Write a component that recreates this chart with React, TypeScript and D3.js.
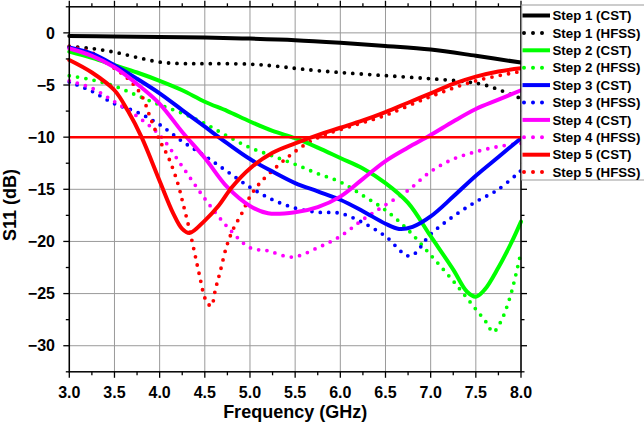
import React from "react";
import * as d3 from "d3";

// ---- Data (frequency GHz, S11 dB) ----
const s1CstF = [3.0, 3.5, 4.0, 4.5, 5.0, 5.5, 6.0, 6.5, 7.0, 7.5, 8.0];
const s1CstV = [-0.3, -0.35, -0.4, -0.45, -0.55, -0.7, -0.95, -1.25, -1.6, -2.2, -2.85];

const s1HfF = [3.0, 3.25, 3.5, 3.75, 4.0, 4.25, 4.5, 5.0, 5.3, 5.6, 6.0, 6.5, 7.0, 7.4, 7.6, 7.8, 8.0];
const s1HfV = [-1.3, -1.5, -1.85, -2.35, -2.8, -2.95, -2.95, -3.0, -3.2, -3.5, -3.8, -4.1, -4.4, -4.7, -5.0, -5.6, -6.3];

const s2CstF = [3.0, 3.25, 3.5, 3.75, 4.0, 4.25, 4.5, 4.75, 5.0, 5.25, 5.5, 5.75, 6.0, 6.25, 6.5, 6.75, 7.0, 7.25, 7.4, 7.5, 7.6, 7.75, 7.9, 8.0];
const s2CstV = [-1.8, -2.4, -3.1, -3.8, -4.6, -5.5, -6.6, -7.5, -8.5, -9.4, -10.1, -11.0, -12.0, -13.0, -14.4, -16.3, -19.5, -22.7, -24.8, -25.3, -24.6, -22.5, -20.0, -18.1];

const s2HfF = [3.0, 3.25, 3.5, 3.75, 4.0, 4.25, 4.5, 4.75, 5.0, 5.25, 5.5, 5.75, 6.0, 6.25, 6.5, 6.75, 7.0, 7.25, 7.5, 7.62, 7.69, 7.77, 7.88, 8.0];
const s2HfV = [-4.1, -4.5, -5.1, -6.0, -6.9, -7.7, -8.7, -9.9, -11.0, -11.8, -12.6, -13.5, -14.3, -15.6, -17.0, -18.9, -21.3, -23.8, -26.5, -27.8, -28.7, -27.8, -25.3, -21.0];

const s3CstF = [3.0, 3.25, 3.5, 3.75, 4.0, 4.25, 4.5, 4.75, 5.0, 5.25, 5.5, 5.75, 6.0, 6.25, 6.5, 6.65, 6.8, 7.0, 7.25, 7.5, 7.75, 8.0];
const s3CstV = [-1.4, -2.0, -3.1, -4.4, -5.8, -7.4, -9.0, -10.6, -12.1, -13.3, -14.4, -15.2, -16.0, -17.1, -18.3, -18.8, -18.6, -17.6, -15.7, -13.7, -11.9, -10.1];

const s3HfF = [3.0, 3.25, 3.5, 3.75, 4.0, 4.25, 4.5, 4.75, 5.0, 5.25, 5.5, 5.75, 6.0, 6.25, 6.5, 6.77, 7.0, 7.25, 7.5, 7.75, 8.0];
const s3HfV = [-4.7, -5.6, -6.8, -7.6, -8.8, -10.4, -11.8, -13.3, -14.8, -16.0, -16.8, -17.2, -17.3, -18.2, -19.5, -21.4, -19.3, -17.6, -16.2, -15.0, -13.2];

const s4CstF = [3.0, 3.25, 3.5, 3.75, 4.0, 4.25, 4.5, 4.75, 5.0, 5.2, 5.5, 5.75, 6.0, 6.25, 6.5, 6.75, 7.0, 7.25, 7.5, 7.75, 8.0];
const s4CstV = [-1.5, -2.2, -3.3, -4.9, -6.8, -9.5, -12.0, -14.8, -16.6, -17.3, -17.2, -16.7, -15.7, -14.0, -12.3, -11.0, -9.8, -8.5, -7.3, -6.4, -5.5];

const s4HfF = [3.0, 3.25, 3.5, 3.75, 4.0, 4.25, 4.5, 4.75, 5.0, 5.2, 5.47, 5.75, 6.0, 6.25, 6.5, 6.75, 7.0, 7.25, 7.5, 7.75, 8.0];
const s4HfV = [-4.6, -5.3, -6.6, -8.0, -9.8, -12.8, -15.9, -18.6, -20.6, -20.9, -21.5, -20.6, -19.5, -17.9, -16.5, -15.1, -13.3, -12.1, -11.4, -10.9, -10.6];

const s5CstF = [3.0, 3.25, 3.5, 3.65, 3.8, 4.0, 4.15, 4.25, 4.33, 4.5, 4.65, 4.8, 5.0, 5.25, 5.5, 5.75, 6.0, 6.25, 6.5, 6.75, 7.0, 7.25, 7.5, 7.75, 8.0];
const s5CstV = [-2.6, -3.8, -5.5, -7.5, -10.0, -14.2, -17.3, -18.8, -19.2, -18.0, -16.6, -14.8, -13.0, -11.5, -10.6, -9.8, -9.1, -8.4, -7.6, -6.7, -5.8, -4.9, -4.2, -3.7, -3.4];

const s5HfF = [3.0, 3.25, 3.45, 3.65, 3.8, 3.9, 4.0, 4.1, 4.2, 4.26, 4.32, 4.38, 4.44, 4.51, 4.57, 4.62, 4.67, 4.74, 4.81, 4.91, 5.0, 5.11, 5.3, 5.48, 5.67, 5.85, 6.14, 6.5, 7.0, 7.5, 8.0];
const s5HfV = [-1.3, -1.9, -3.1, -4.4, -6.0, -8.2, -10.3, -12.0, -14.4, -16.4, -18.5, -20.8, -23.2, -25.6, -26.2, -24.5, -22.9, -20.5, -18.9, -17.3, -15.7, -14.4, -12.8, -11.5, -10.4, -9.7, -8.9, -7.9, -6.1, -4.6, -3.7];

const thresholdDb = -10;

const xTicks = [3.0, 3.5, 4.0, 4.5, 5.0, 5.5, 6.0, 6.5, 7.0, 7.5, 8.0];
const yTicks = [0, -5, -10, -15, -20, -25, -30];

const seriesNames = [
  "Step 1 (CST)", "Step 1 (HFSS)", "Step 2 (CST)", "Step 2 (HFSS)", "Step 3 (CST)",
  "Step 3 (HFSS)", "Step 4 (CST)", "Step 4 (HFSS)", "Step 5 (CST)", "Step 5 (HFSS)",
];
const seriesColors = ["#000000", "#000000", "#00ff00", "#00ff00", "#0000ff", "#0000ff", "#ff00ff", "#ff00ff", "#ff0000", "#ff0000"];
const seriesDotted = [false, true, false, true, false, true, false, true, false, true];
const seriesF = [s1CstF, s1HfF, s2CstF, s2HfF, s3CstF, s3HfF, s4CstF, s4HfF, s5CstF, s5HfF];
const seriesV = [s1CstV, s1HfV, s2CstV, s2HfV, s3CstV, s3HfV, s4CstV, s4HfV, s5CstV, s5HfV];

// ---- Layout ----
const W = 644, H = 432;
const left = 69.3, right = 521, top = 6.8, bottom = 371.8;
const FONT = "Arial, 'Liberation Sans', Helvetica, sans-serif";

export default function App() {
  const x = d3.scaleLinear().domain([3, 8]).range([left, right]);
  const y = d3.scaleLinear().domain([-32.5, 2.5]).range([bottom, top]);

  const line = d3.line<[number, number]>()
    .x((d) => x(d[0]))
    .y((d) => y(d[1]))
    .curve(d3.curveCatmullRom.alpha(0.5));

  const xMinor = d3.range(3.25, 8, 0.5);
  const yMinor = d3.range(-32.5, 2.6, 2.5).filter((v) => Math.abs(v % 5) > 0.1);

  const drawOrder = [1, 3, 5, 7, 9, 0, 2, 4, 6, 8];

  return (
    <svg width={W} height={H} style={{ position: "absolute", left: 0, top: 0, background: "#fff" }}>
      <rect x={0} y={0} width={W} height={H} fill="#fff" />
      {/* grid */}
      {xTicks.map((t) => (
        <line key={"gx" + t} x1={x(t)} x2={x(t)} y1={top} y2={bottom} stroke="#9a9a9a" strokeWidth={1} />
      ))}
      {yTicks.map((t) => (
        <line key={"gy" + t} x1={left} x2={right} y1={y(t)} y2={y(t)} stroke="#9a9a9a" strokeWidth={1} />
      ))}

      {/* series */}
      {drawOrder.map((i) => {
        const pts = seriesF[i].map((f, k) => [f, seriesV[i][k]] as [number, number]);
        return (
          <path
            key={"s" + i}
            d={line(pts) || ""}
            fill="none"
            stroke={seriesColors[i]}
            strokeWidth={seriesDotted[i] ? 3.8 : 4}
            strokeLinecap="round"
            strokeLinejoin="round"
            strokeDasharray={seriesDotted[i] ? "0 8.4" : undefined}
          />
        );
      })}

      {/* -10 dB threshold */}
      <line x1={x(3)} x2={x(8)} y1={y(thresholdDb)} y2={y(thresholdDb)} stroke="#ff0000" strokeWidth={2.5} />

      {/* frame */}
      <rect x={left} y={top} width={right - left} height={bottom - top} fill="none" stroke="#000" strokeWidth={1.5} />

      {/* ticks */}
      {xTicks.map((t) => (
        <g key={"tx" + t}>
          <line x1={x(t)} x2={x(t)} y1={bottom} y2={bottom + 6} stroke="#000" strokeWidth={1.3} />
          <line x1={x(t)} x2={x(t)} y1={top} y2={top - 6} stroke="#000" strokeWidth={1.3} />
        </g>
      ))}
      {xMinor.map((t) => (
        <g key={"mx" + t}>
          <line x1={x(t)} x2={x(t)} y1={bottom} y2={bottom + 3.5} stroke="#000" strokeWidth={1.3} />
          <line x1={x(t)} x2={x(t)} y1={top} y2={top - 3.5} stroke="#000" strokeWidth={1.3} />
        </g>
      ))}
      {yTicks.map((t) => (
        <g key={"ty" + t}>
          <line x1={left} x2={left - 6} y1={y(t)} y2={y(t)} stroke="#000" strokeWidth={1.3} />
          <line x1={right} x2={right + 6} y1={y(t)} y2={y(t)} stroke="#000" strokeWidth={1.3} />
        </g>
      ))}
      {yMinor.map((t) => (
        <g key={"my" + t}>
          <line x1={left} x2={left - 3.5} y1={y(t)} y2={y(t)} stroke="#000" strokeWidth={1.3} />
          <line x1={right} x2={right + 3.5} y1={y(t)} y2={y(t)} stroke="#000" strokeWidth={1.3} />
        </g>
      ))}

      {/* tick labels */}
      {xTicks.map((t) => (
        <text key={"lx" + t} x={x(t)} y={398} textAnchor="middle" fontFamily={FONT} fontWeight="bold" fontSize={16} fill="#000">
          {t.toFixed(1)}
        </text>
      ))}
      {yTicks.map((t) => (
        <text key={"ly" + t} x={55} y={y(t)} dy="0.36em" textAnchor="end" fontFamily={FONT} fontWeight="bold" fontSize={16} fill="#000">
          {t < 0 ? "\u2212" + Math.abs(t) : String(t)}
        </text>
      ))}

      {/* axis titles */}
      <text x={(left + right) / 2} y={418} textAnchor="middle" fontFamily={FONT} fontWeight="bold" fontSize={18} fill="#000">
        Frequency (GHz)
      </text>
      <text transform={`translate(15.5, 205) rotate(-90)`} textAnchor="middle" fontFamily={FONT} fontWeight="bold" fontSize={18} fill="#000">
        S11 (dB)
      </text>

      {/* legend */}
      <rect x={521.7} y={5} width={140} height={175} fill="#fff" stroke="#9a9a9a" strokeWidth={1} />
      {seriesNames.map((name, i) => {
        const cy = 15.5 + i * 17.4;
        return (
          <g key={"lg" + i}>
            <line
              x1={seriesDotted[i] ? 524 : 522.5}
              x2={seriesDotted[i] ? 548 : 550}
              y1={cy}
              y2={cy}
              stroke={seriesColors[i]}
              strokeWidth={4}
              strokeLinecap={seriesDotted[i] ? "round" : "butt"}
              strokeDasharray={seriesDotted[i] ? "0 9" : undefined}
            />
            <text x={552.5} y={cy} dy="0.36em" fontFamily={FONT} fontWeight="bold" fontSize={13.3} fill="#000">
              {name}
            </text>
          </g>
        );
      })}
    </svg>
  );
}
